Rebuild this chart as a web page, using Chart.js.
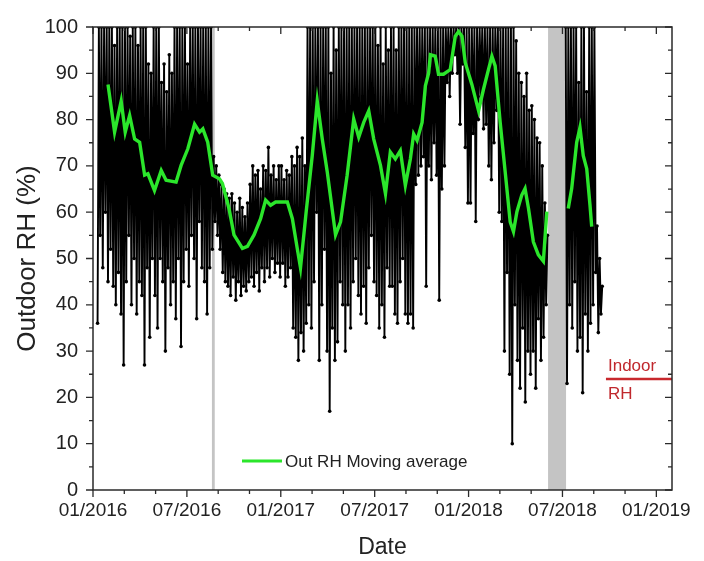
<!DOCTYPE html>
<html><head><meta charset="utf-8">
<script src="https://cdn.jsdelivr.net/npm/chart.js@4.4.1/dist/chart.umd.min.js"></script>
<style>html,body{margin:0;padding:0;background:#fff;}#wrap{width:704px;height:561px;}</style>
</head><body><div id="wrap"><canvas id="c" width="704" height="561"></canvas></div>
<script>
// x values are months since 01/2016 (0 = 01/2016, 36 = 01/2019)
const xTickMonths = [0, 6, 12, 18, 24, 30, 36];
const xTickLabels = ['01/2016', '07/2016', '01/2017', '07/2017', '01/2018', '07/2018', '01/2019'];
const yTickValues = [0, 10, 20, 30, 40, 50, 60, 70, 80, 90, 100];

// Outdoor RH readings, 12 per month, starting 01/2016
const rhByMonth = [
  [null, null, null, 36, 100, 55, 100, 48, 100, 60, 100, 45],
  [100, 52, 100, 44, 96, 40, 100, 47, 100, 38, 100, 27],
  [100, 45, 100, 55, 98, 40, 100, 50, 100, 38, 96, 45],
  [100, 42, 100, 27, 100, 48, 92, 33, 90, 50, 100, 42],
  [100, 35, 100, 50, 88, 45, 92, 30, 86, 48, 94, 40],
  [90, 45, 100, 37, 100, 50, 100, 31, 100, 45, 100, 52],
  [92, 44, 100, 55, 100, 50, 100, 37, 100, 58, 100, 48],
  [100, 45, 100, 38, 100, 48, 100, 52, 72, 58, 70, 55],
  [68, 52, 66, 47, 65, 45, 64, 44, 63, 42, 64, 46],
  [62, 41, 60, 45, 63, 42, 61, 44, 59, 43, 62, 45],
  [66, 46, 70, 44, 68, 47, 69, 43, 65, 48, 70, 45],
  [69, 48, 74, 46, 68, 50, 70, 47, 67, 49, 70, 46],
  [70, 49, 67, 44, 69, 46, 68, 48, 72, 35, 70, 33],
  [74, 28, 72, 34, 76, 30, 70, 36, 100, 40, 100, 35],
  [100, 45, 100, 60, 100, 28, 100, 40, 100, 52, 100, 30],
  [100, 17, 90, 35, 100, 28, 95, 32, 100, 45, 100, 40],
  [100, 30, 100, 40, 100, 35, 100, 45, 100, 50, 100, 42],
  [100, 38, 100, 44, 100, 36, 100, 48, 100, 55, 100, 45],
  [100, 42, 96, 35, 100, 40, 92, 33, 100, 48, 95, 44],
  [100, 44, 100, 38, 95, 36, 100, 45, 100, 50, 100, 38],
  [100, 36, 100, 38, 100, 35, 100, 66, 100, 68, 100, 70],
  [100, 72, 100, 44, 100, 70, 100, 67, 100, 75, 100, 68],
  [100, 41, 100, 65, 100, 70, 100, 88, 100, 85, 100, 90],
  [100, 94, 100, 90, 100, 79, 100, 92, 100, 74, 100, 62],
  [100, 62, 100, 77, 100, 58, 100, 80, 100, 85, 100, 78],
  [100, 79, 100, 70, 100, 67, 100, 75, 100, 82, 100, 60],
  [100, 58, 100, 30, 100, 47, 100, 25, 100, 10, 100, 40],
  [97, 28, 90, 22, 88, 35, 85, 19, 90, 30, 82, 25],
  [83, 30, 80, 22, 76, 37, 75, 28, 70, 33, 62, 40],
  [55, null, null, null, null, null, null, null, null, null, null, null],
  [null, null, 100, 23, 100, 40, 100, 35, 100, 45, 100, 30],
  [88, 33, 100, 21, 100, 38, 86, 30, 100, 36, 100, 40],
  [100, 47, 57, 34, 50, 38, 44, null, null, null, null, null]
];

// Moving average (months since 01/2016, RH %)
const maMonths = [0.96, 1.38, 1.80, 2.06, 2.34, 2.66, 2.98, 3.30, 3.51, 3.93, 4.36, 4.67, 5.31, 5.63, 6.06, 6.49, 6.81, 7.02, 7.33, 7.65, 8.08, 8.27, 8.69, 9.01, 9.55, 9.87, 10.29, 10.71, 11.03, 11.35, 11.67, 12.42, 12.74, 13.05, 13.26, 13.62, 14.01, 14.33, 14.65, 14.97, 15.50, 15.82, 16.24, 16.66, 16.98, 17.30, 17.62, 17.94, 18.37, 18.69, 19.00, 19.32, 19.64, 19.96, 20.28, 20.49, 20.71, 21.03, 21.24, 21.45, 21.56, 21.87, 22.08, 22.40, 22.83, 23.15, 23.36, 23.58, 23.79, 24.21, 24.64, 24.95, 25.27, 25.49, 25.70, 26.02, 26.34, 26.66, 26.87, 27.09, 27.40, 27.61, 27.83, 28.14, 28.46, 28.78, 29.00, 29.60, 30.37, 30.59, 30.91, 31.12, 31.33, 31.55, 31.76, 31.87];
const maValues = [87.6, 77.3, 84, 77.3, 80.9, 75.8, 75.1, 68, 68.3, 64.7, 69, 66.9, 66.5, 70.1, 73.7, 79, 77.3, 78, 75.1, 68, 67.2, 66.2, 60.8, 55.1, 52.2, 52.6, 55.1, 58.6, 62.6, 61.5, 62.2, 62.2, 58.6, 52.2, 48, 60, 72.2, 84, 75.8, 68.7, 55.1, 57.9, 68, 80.1, 76.2, 79.4, 81.9, 75.8, 70.1, 64, 73, 71.5, 73.3, 65.8, 71.5, 76.9, 75.5, 79.4, 87.3, 90.1, 94, 93.7, 89.8, 89.8, 90.8, 98, 99, 98, 92.3, 87.6, 81.9, 86.5, 90.8, 93.7, 91.6, 79.4, 68.7, 57.9, 55.8, 60.1, 63.7, 65.1, 60.8, 53.6, 50.8, 49.4, 60.1, null, 60.8, 65.1, 75.1, 78.3, 72.2, 69.4, 61.5, 56.9];

// Indoor RH reference line
const indoorMonths = [32.78, 37];
const indoorRH = [24, 24];

// Shaded periods (months since 01/2016)
const shadedPeriods = [[7.6, 7.78], [29.08, 30.23]];

const seriesNames = ['Outdoor RH', 'Out RH Moving average', 'Indoor RH'];
const indoorText = ['Indoor', 'RH'];

const FONT = "'Liberation Sans', Arial, sans-serif";

const rhPoints = [];
rhByMonth.forEach((vals, i) => vals.forEach((v, k) => rhPoints.push({x: i + (k + 0.5) / vals.length, y: v})));
const maPoints = maMonths.map((m, i) => ({x: m, y: maValues[i]}));
const indoorPoints = indoorMonths.map((m, i) => ({x: m, y: indoorRH[i]}));

const decor = {
  id: 'decor',
  beforeDatasetsDraw(chart) {
    const ctx = chart.ctx, xs = chart.scales.x, a = chart.chartArea;
    ctx.save();
    ctx.fillStyle = '#c4c4c4';
    shadedPeriods.forEach(([s, e]) => {
      const x0 = xs.getPixelForValue(s), x1 = xs.getPixelForValue(e);
      ctx.fillRect(x0, a.top, x1 - x0, a.bottom - a.top);
    });
    ctx.restore();
  },
  afterDraw(chart) {
    const ctx = chart.ctx, xs = chart.scales.x, ys = chart.scales.y, a = chart.chartArea;
    ctx.save();
    ctx.strokeStyle = '#2a2a2a';
    ctx.lineWidth = 1.5;
    ctx.strokeRect(a.left, a.top, a.right - a.left, a.bottom - a.top);
    ctx.lineWidth = 1.3;
    ctx.beginPath();
    for (let m = 0; m <= 36; m += 2) {
      const px = xs.getPixelForValue(m);
      const len = (m % 6 === 0) ? 7 : 4;
      ctx.moveTo(px, a.bottom); ctx.lineTo(px, a.bottom + len);
      ctx.moveTo(px, a.top); ctx.lineTo(px, a.top + len);
    }
    for (let v = 0; v <= 100; v += 5) {
      const py = ys.getPixelForValue(v);
      const len = (v % 10 === 0) ? 7 : 4;
      ctx.moveTo(a.left - len, py); ctx.lineTo(a.left, py);
      ctx.moveTo(a.right - len, py); ctx.lineTo(a.right, py);
    }
    ctx.stroke();
    // legend
    const lx = a.left + 149, ly = a.top + 434;
    ctx.strokeStyle = '#2be62b'; ctx.lineWidth = 3;
    ctx.beginPath(); ctx.moveTo(lx, ly); ctx.lineTo(lx + 40, ly); ctx.stroke();
    ctx.fillStyle = '#222';
    ctx.font = '17px ' + FONT;
    ctx.textBaseline = 'middle'; ctx.textAlign = 'left';
    ctx.fillText(seriesNames[1], lx + 43, ly + 1);
    // indoor label
    const ix = xs.getPixelForValue(indoorMonths[0]) + 2, iy = ys.getPixelForValue(indoorRH[0]);
    ctx.fillStyle = '#c0282d';
    ctx.fillText(indoorText[0], ix, iy - 13);
    ctx.fillText(indoorText[1], ix, iy + 15);
    ctx.restore();
  }
};

new Chart(document.getElementById('c'), {
  type: 'line',
  data: {
    datasets: [
      {label: seriesNames[0], data: rhPoints, borderColor: '#000', backgroundColor: '#000', borderWidth: 1.9,
       pointRadius: 1.8, pointBackgroundColor: '#000', pointBorderWidth: 0, spanGaps: false, tension: 0, order: 3},
      {label: seriesNames[1], data: maPoints, borderColor: '#2be62b', borderWidth: 3.4, pointRadius: 0,
       spanGaps: false, tension: 0, order: 2},
      {label: seriesNames[2], data: indoorPoints, borderColor: '#c8282d', borderWidth: 2.5, pointRadius: 0, order: 1}
    ]
  },
  options: {
    responsive: false, animation: false, devicePixelRatio: 1,
    layout: {padding: {top: 24, right: 32, left: 0, bottom: 0}},
    plugins: {legend: {display: false}, tooltip: {enabled: false}},
    scales: {
      x: {
        type: 'linear', min: 0, max: 37,
        grid: {display: false, drawTicks: false}, border: {display: false},
        afterBuildTicks: s => { s.ticks = xTickMonths.map(v => ({value: v})); },
        afterFit: s => { s.height = 71; },
        ticks: {autoSkip: false, maxRotation: 0, padding: 9, color: '#222', font: {family: FONT, size: 19},
          callback: v => { const i = xTickMonths.indexOf(v); return i >= 0 ? xTickLabels[i] : ''; }},
        title: {display: true, text: 'Date', color: '#222', font: {family: FONT, size: 23}, padding: {top: 0, bottom: 0}}
      },
      y: {
        min: 0, max: 100,
        grid: {display: false, drawTicks: false}, border: {display: false},
        afterBuildTicks: s => { s.ticks = yTickValues.map(v => ({value: v})); },
        afterFit: s => { s.width = 93; },
        ticks: {padding: 15, color: '#222', font: {family: FONT, size: 20}},
        title: {display: true, text: 'Outdoor RH (%)', color: '#222', font: {family: FONT, size: 26}, padding: {top: 12, bottom: 0}}
      }
    }
  },
  plugins: [decor]
});
</script>
</body></html>
